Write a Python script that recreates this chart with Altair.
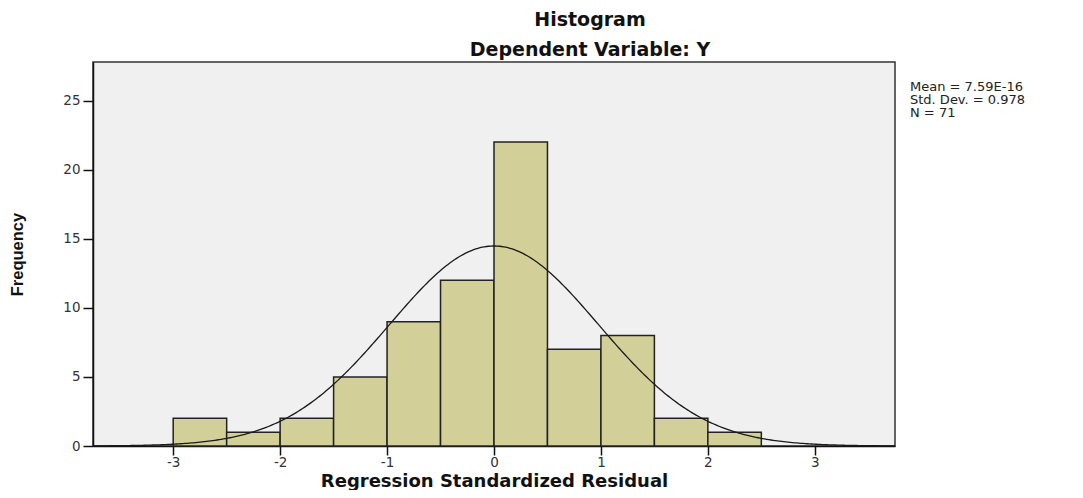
import altair as alt
import pandas as pd

# ---- data ----
bin_start = [-3.0, -2.5, -2.0, -1.5, -1.0, -0.5, 0.0, 0.5, 1.0, 1.5, 2.0]
bin_end = [-2.5, -2.0, -1.5, -1.0, -0.5, 0.0, 0.5, 1.0, 1.5, 2.0, 2.5]
counts = [2, 1, 2, 5, 9, 12, 22, 7, 8, 2, 1]

x_ticks = [-3, -2, -1, 0, 1, 2, 3]
y_ticks = [0, 5, 10, 15, 20, 25]

MEAN = 7.59e-16
SD = 0.978
N = 71
BIN_W = 0.5
stats_lines = ["Mean = 7.59E-16", "Std. Dev. = 0.978", "N = 71"]

X_DOMAIN = [-3.75, 3.75]
Y_DOMAIN = [0, 27.8]

W, H = 802, 384

bars_df = pd.DataFrame({"start": bin_start, "end": bin_end, "count": counts})

xscale = alt.Scale(domain=X_DOMAIN, nice=False, zero=False)
yscale = alt.Scale(domain=Y_DOMAIN, nice=False)

x_axis = alt.Axis(values=x_ticks, title="Regression Standardized Residual", grid=False,
                  labelExpr="'' + datum.value", labelPadding=0, tickSize=9,
                  titleFont="DejaVu Sans", titleFontSize=18, titleFontWeight="bold",
                  titleColor="#111", titlePadding=4)
y_axis = alt.Axis(values=y_ticks, title="Frequency", grid=False,
                  labelExpr="'' + datum.value", labelPadding=3, tickSize=10,
                  titleFont="Liberation Sans", titleFontSize=16.5, titleFontWeight="bold",
                  titleColor="#111", titlePadding=37)

bars = alt.Chart(bars_df).mark_bar(
    fill="#d2cf98", stroke="#222", strokeWidth=1.5, opacity=1
).encode(
    x=alt.X("start:Q", scale=xscale, axis=x_axis),
    x2="end:Q",
    y=alt.Y("count:Q", scale=yscale, axis=y_axis),
    y2=alt.datum(0),
)

curve = alt.Chart(alt.sequence(X_DOMAIN[0], X_DOMAIN[1] + 0.001, 0.02, as_="x")).transform_calculate(
    y=f"{N}*{BIN_W}*exp(-0.5*pow((datum.x-({MEAN}))/{SD},2))/({SD}*sqrt(2*PI))"
).mark_line(color="#1a1a1a", strokeWidth=1.3).encode(
    x=alt.X("x:Q", scale=xscale),
    y=alt.Y("y:Q", scale=yscale),
)

stats = alt.Chart(pd.DataFrame({"k": [0]})).mark_text(
    align="left", baseline="top", font="DejaVu Sans", fontSize=13,
    lineHeight=13, color="#222"
).encode(
    x=alt.value(W + 15),
    y=alt.value(19),
    text=alt.value(stats_lines),
)

chart = alt.layer(bars, curve, stats).properties(
    width=W,
    height=H,
    title=alt.TitleParams(
        text=["Histogram", "Dependent Variable: Y"],
        anchor="middle", dx=96, offset=2, lineHeight=30,
        font="DejaVu Sans", fontSize=19, fontWeight="bold", color="#111",
    ),
    autosize=alt.AutoSizeParams(type="none"),
    padding={"left": 85, "top": 54, "right": 180, "bottom": 44},
    background="white",
).configure_view(
    fill="#f0f0f0", stroke="#333", strokeWidth=1.5
).configure_axis(
    labelFont="DejaVu Sans", labelFontSize=13.5, labelColor="#333",
    tickColor="#111", tickWidth=1.5,
    domainColor="#111", domainWidth=1.5,
)

chart.save("out.html", embed_options={"renderer": "svg", "actions": False})
